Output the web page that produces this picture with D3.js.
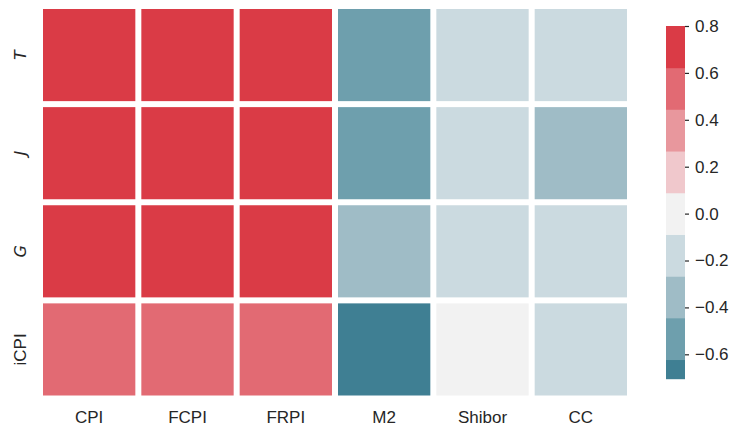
<!DOCTYPE html>
<html><head><meta charset="utf-8">
<script src="https://cdn.jsdelivr.net/npm/d3@7"></script>
<style>body{margin:0;background:#fff}svg{display:block}</style>
</head><body><svg id="c" width="733" height="427"></svg>
<script>
const rows = ["T","J","G","iCPI"];
const rowItalic = [true,true,true,false];
const cols = ["CPI","FCPI","FRPI","M2","Shibor","CC"];
const valT    = [0.75, 0.74, 0.73, -0.50, -0.15, -0.20];
const valJ    = [0.72, 0.71, 0.70, -0.52, -0.18, -0.35];
const valG    = [0.70, 0.69, 0.68, -0.38, -0.15, -0.20];
const valICPI = [0.55, 0.54, 0.53, -0.70, -0.05, -0.15];
const palette = ["#3f7f93","#6e9fad","#9fbcc6","#cbdae0","#f2f2f2","#f0c8cc","#e8979d","#e26a73","#da3b46"];
const cbTicks = [-0.6,-0.4,-0.2,0.0,0.2,0.4,0.6,0.8];
const vmin = -0.704, vmax = 0.8, center = 0;

const matrix = [valT, valJ, valG, valICPI];
const svg = d3.select("#c");
const font = "'Liberation Sans', Arial, sans-serif";
const fs = 17;

const x = d3.scaleBand().domain(cols).range([40, 630]);
const y = d3.scaleBand().domain(rows).range([6, 398.5]);
const vr = Math.max(vmax-center, center-vmin);
const color = d3.scaleQuantize().domain([center-vr, center+vr]).range(palette);

const cells = [];
matrix.forEach((r,i)=>r.forEach((v,j)=>cells.push({row:rows[i],col:cols[j],v})));
const gap = 3;
svg.append("g").selectAll("rect").data(cells).join("rect")
  .attr("x", d=>x(d.col)+gap).attr("y", d=>y(d.row)+gap)
  .attr("width", x.bandwidth()-2*gap).attr("height", y.bandwidth()-2*gap)
  .attr("fill", d=>color(d.v));

// x labels
svg.append("g").selectAll("text").data(cols).join("text")
  .attr("x", d=>x(d)+x.bandwidth()/2).attr("y", 422.5)
  .attr("text-anchor","middle").attr("font-family",font).attr("font-size",fs)
  .attr("fill","#262626").text(d=>d);
// y labels
svg.append("g").selectAll("text").data(rows).join("text")
  .attr("transform", d=>`translate(25.5,${y(d)+y.bandwidth()/2}) rotate(-90)`)
  .attr("text-anchor","middle")
  .attr("font-family",(d,i)=>rowItalic[i]?"'DejaVu Sans', sans-serif":font)
  .attr("font-style",(d,i)=>rowItalic[i]?"italic":"normal")
  .attr("font-size",(d,i)=>rowItalic[i]?16:fs)
  .attr("fill","#262626").text(d=>d);

// colorbar
const cbX = 666, cbW = 19;
const cy = d3.scaleLinear().domain([vmin, vmax]).range([378.7, 26]);
const bins = palette.map((c,i)=>{
  const [lo,hi] = color.invertExtent(c);
  return {c, lo:Math.max(lo,vmin), hi:Math.min(hi,vmax)};
}).filter(b=>b.hi>b.lo);
svg.append("g").selectAll("rect").data(bins).join("rect")
  .attr("x", cbX).attr("width", cbW)
  .attr("y", d=>cy(d.hi)).attr("height", d=>cy(d.lo)-cy(d.hi)+0.5)
  .attr("fill", d=>d.c);
const ax = svg.append("g").attr("transform",`translate(${cbX+cbW},0)`)
  .call(d3.axisRight(cy).tickValues(cbTicks).tickFormat(d3.format(".1f")).tickSize(4).tickPadding(6));
ax.select(".domain").remove();
ax.selectAll("line").attr("stroke","#262626").attr("stroke-width",1.2);
ax.selectAll("text").attr("font-family",font).attr("font-size",fs).attr("fill","#262626");
</script></body></html>
